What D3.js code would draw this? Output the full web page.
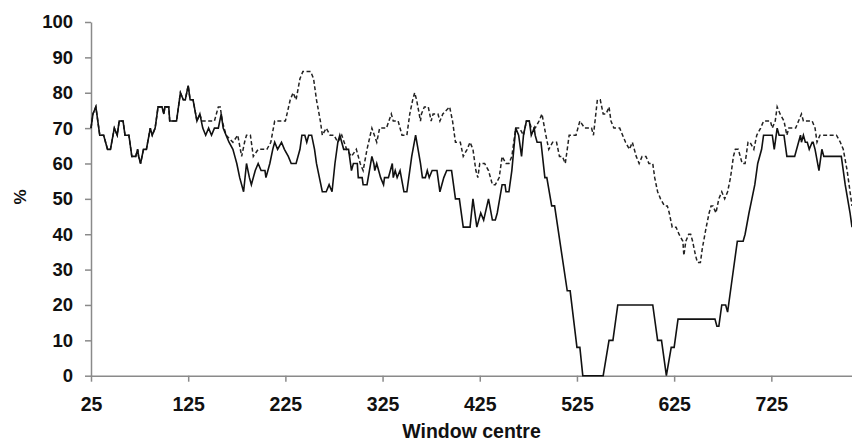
<!DOCTYPE html>
<html>
<head>
<meta charset="utf-8">
<script src="https://cdn.jsdelivr.net/npm/d3@7"></script>
<style>
  body { margin: 0; background: #fff; }
  svg text { font-family: "Liberation Sans", Arial, sans-serif; font-weight: bold; }
</style>
</head>
<body>
<div id="chart"></div>
<script>
// x position of each window centre and % for the solid series
const solidX = [25,27,30,31,34,38,42,45,49,52,54,58,60,64,67,71,73,74,76,79,82,86,88,91,94,98,100,101,105,106,113,117,120,122,125,127,130,134,
  137,140,143,146,149,152,156,159,161,164,167,171,173,175,178,182,185,188,190,194,197,200,204,205,209,212,214,217,221,224,228,231,236,240,242,245,247,249,252,255,257,260,263,267,270,273,276,279,281,
  285,290,293,295,299,300,304,305,309,314,316,317,319,323,326,327,331,335,336,338,340,343,347,350,355,359,364,366,369,371,373,376,381,384,388,391,396,400,404,408,415,
  418,422,426,429,434,438,441,443,448,451,452,455,458,462,465,468,470,473,476,478,481,482,484,488,492,494,499,502,515,518,525,528,531,552,558,562,567,603,608,612,617,622,625,629,667,669,671,674,678,680,684,690,696,698,702,705,708,711,715,717,726,728,731,733,738,741,749,753,755,756,758,760,762,764,767,768,770,774,777,779,797,801,806,808];
const solidY = [70,74,76,74,68,68,64,64,70,68,72,72,68,68,62,62,64,62,60,64,64,70,68,70,76,76,74,76,76,72,72,80,78,78,82,78,78,72,
  74,70,68,70,68,70,70,74,70,68,66,64,62,60,56,52,60,56,54,58,60,58,58,56,60,64,66,64,66,64,62,60,60,64,68,68,66,68,68,64,60,56,52,52,54,52,60,66,68,
  64,64,58,60,60,56,56,54,54,62,60,58,60,56,54,56,56,60,56,58,56,58,52,52,62,68,60,56,56,58,56,58,58,52,56,58,58,50,50,42,42,
  50,42,46,44,50,44,44,46,54,54,52,52,58,70,68,62,68,72,72,68,70,68,66,66,56,56,48,48,24,24,8,8,0,0,10,10,20,20,10,10,0,8,8,16,16,14,14,20,20,18,26,38,38,40,46,50,54,60,64,68,68,64,70,68,68,62,62,66,68,66,68,66,66,64,66,66,64,58,64,62,62,54,46,42];

// dashed series (runs under the solid one until about 134)
const dashedX = [25,27,30,31,34,38,42,45,49,52,54,58,60,64,67,71,73,74,76,79,82,86,88,91,94,98,100,101,105,106,113,117,120,122,125,127,130,134,
  137,139,146,152,156,158,160,164,171,176,180,183,185,189,192,197,206,210,214,219,225,230,233,236,240,243,251,254,257,261,263,267,271,275,279,283,288,293,298,302,305,309,314,319,322,329,334,336,341,345,350,353,356,358,360,364,365,368,372,375,377,382,384,387,394,397,400,405,408,412,415,418,421,423,425,430,434,438,441,445,448,452,455,458,
  462,466,470,473,476,478,482,486,489,493,496,500,504,507,510,513,517,524,528,533,540,542,546,549,552,555,558,560,563,569,572,575,579,582,586,589,592,596,599,603,605,608,611,615,618,620,623,627,630,634,635,637,640,642,644,647,649,652,654,658,661,663,665,668,671,674,677,680,683,686,688,691,695,698,701,703,707,710,714,717,724,726,729,731,734,738,741,743,750,753,756,758,763,767,770,772,775,779,792,796,799,803,805,808];
const dashedY = [70,74,76,74,68,68,64,64,70,68,72,72,68,68,62,62,64,62,60,64,64,70,68,70,76,76,74,76,76,72,72,80,78,78,82,78,78,72,
  74,72,72,72,76,76,72,68,66,68,62,66,68,68,62,64,64,66,72,72,72,78,80,78,84,86,86,84,78,72,68,70,68,68,66,68,64,62,64,60,58,64,70,66,70,70,74,72,72,68,68,74,78,80,78,72,74,76,76,72,74,74,72,74,76,72,66,66,62,64,66,64,58,56,60,60,58,54,54,56,62,60,60,62,
  70,70,68,72,72,70,70,72,74,68,64,66,66,62,62,60,68,68,72,70,70,68,78,78,74,74,76,72,70,70,68,66,64,66,62,60,62,62,60,60,56,52,50,48,48,46,42,42,40,38,34,38,40,40,38,34,32,32,36,42,46,48,48,46,50,52,50,52,56,62,64,64,60,60,66,66,64,68,70,72,72,70,72,76,74,72,68,70,70,72,74,72,72,72,70,66,68,68,68,66,64,58,54,48];

const xTicks = [25,125,225,325,425,525,625,725];
const yTicks = [0,10,20,30,40,50,60,70,80,90,100];

const width = 852, height = 444;
const margin = {top: 22, right: 0, bottom: 68.3, left: 91};

const svg = d3.select("#chart").append("svg")
  .attr("width", width)
  .attr("height", height);

const x = d3.scaleLinear().domain([25, 808]).range([margin.left, width - margin.right]);
const y = d3.scaleLinear().domain([0, 100]).range([height - margin.bottom, margin.top]);

const axisColor = "#8a8a8a";

// y axis
const gy = svg.append("g")
  .attr("transform", `translate(${margin.left},0)`)
  .call(d3.axisLeft(y).tickValues(yTicks).tickSize(6).tickSizeOuter(0).tickPadding(12));
gy.selectAll("text").attr("font-size", 18.5).attr("fill", "#111");

// x axis
const gx = svg.append("g")
  .attr("transform", `translate(0,${y(0)})`)
  .call(d3.axisBottom(x).tickValues(xTicks).tickSize(6).tickSizeOuter(0).tickPadding(15));
gx.selectAll("text").attr("font-size", 19.5).attr("fill", "#111");

svg.selectAll(".domain, .tick line").attr("stroke", axisColor).attr("stroke-width", 1.5);

// lines
const line = d3.line().x(d => x(d[0])).y(d => y(d[1]));

svg.append("path")
  .datum(d3.zip(dashedX, dashedY))
  .attr("fill", "none")
  .attr("stroke", "#222")
  .attr("stroke-width", 1.5)
  .attr("stroke-dasharray", "4,2.5")
  .attr("d", line);

svg.append("path")
  .datum(d3.zip(solidX, solidY))
  .attr("fill", "none")
  .attr("stroke", "#111")
  .attr("stroke-width", 1.6)
  .attr("d", line);

// axis titles
svg.append("text")
  .attr("x", (margin.left + width) / 2)
  .attr("y", 438)
  .attr("text-anchor", "middle")
  .attr("font-size", 19.5)
  .attr("fill", "#111")
  .text("Window centre");

svg.append("text")
  .attr("transform", "translate(26,197) rotate(-90)")
  .attr("text-anchor", "middle")
  .attr("font-size", 17)
  .attr("fill", "#111")
  .text("%");
</script>
</body>
</html>
